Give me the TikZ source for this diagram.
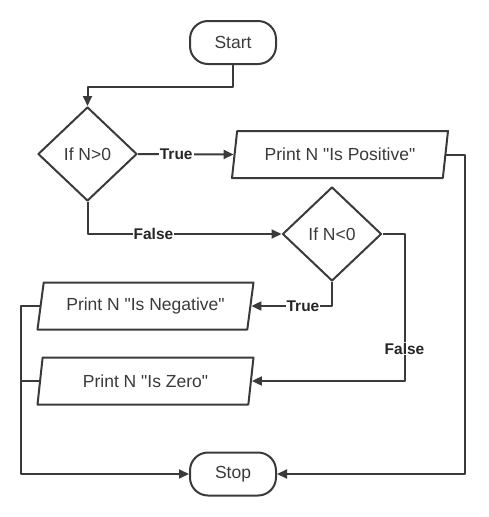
\documentclass[tikz,border=0pt]{standalone}
\usepackage{fontspec}
\setmainfont{Liberation Sans}
\usetikzlibrary{shapes.geometric,arrows.meta}
\definecolor{inkgray}{HTML}{3A3A3A}
\begin{document}
\begin{tikzpicture}[x=1pt,y=-1pt,
		line width=2pt, draw=inkgray, text=inkgray, line join=round,
		>={Triangle[length=10pt,width=9pt]},
		term/.style={draw, rounded corners=18pt, minimum width=86pt, minimum height=43pt, font=\fontsize{17.5}{21}\selectfont},
		cond/.style={draw, diamond, inner sep=0pt, minimum width=99pt, minimum height=94pt, font=\fontsize{17.5}{21}\selectfont},
		io/.style={draw, trapezium, trapezium left angle=73, trapezium right angle=107, trapezium stretches body, minimum width=216pt, minimum height=47pt, inner sep=2pt, font=\fontsize{17.5}{21}\selectfont},
		lbl/.style={fill=white, inner sep=1pt, text=black!85, font=\bfseries\fontsize{15.5}{18}\selectfont}]
		
		\useasboundingbox (0,0) rectangle (488,517);
		
		\node [term] (start) at (233,42.5) {Start};
		\node [cond] (ifpos) at (87.5,154) {If N>0};
		\node [io] (pos) at (340,154.5) {Print N \textquotedbl Is Positive\textquotedbl};
		\node [cond] (ifneg) at (332,234) {If N<0};
		\node [io] (neg) at (145.5,306) {Print N \textquotedbl Is Negative\textquotedbl};
		\node [io] (zero) at (145.5,381) {Print N \textquotedbl Is Zero\textquotedbl};
		\node [term] (stop) at (233,474) {Stop};
		
		\coordinate (lft) at (21,474);
		\coordinate (rgt) at (465,474);
		
		\draw [->] (start.south) -- ++(0,22) -| (ifpos.north);
		\draw [->] (ifpos.east) -- node [lbl,pos=0.4] {True} (pos.west);
		\draw [->] (ifpos.south) |- node [lbl,pos=0.67] {False} (ifneg.west);
		\draw [->] (ifneg.south) |- node [lbl,pos=0.68] {True} (neg.east);
		\draw [->] (ifneg.east) -- ++(22,0) |- node [lbl,pos=0.39] {False} (zero.east);
		%% both outputs on the left join the line to Stop
		\draw [->] (neg.west) -| (lft) -- (stop.west);
		\draw (zero.west) -- (zero.west -| lft);
		\draw [->] (pos.east) -| (rgt) -- (stop.east);
	\end{tikzpicture}
\end{document}
